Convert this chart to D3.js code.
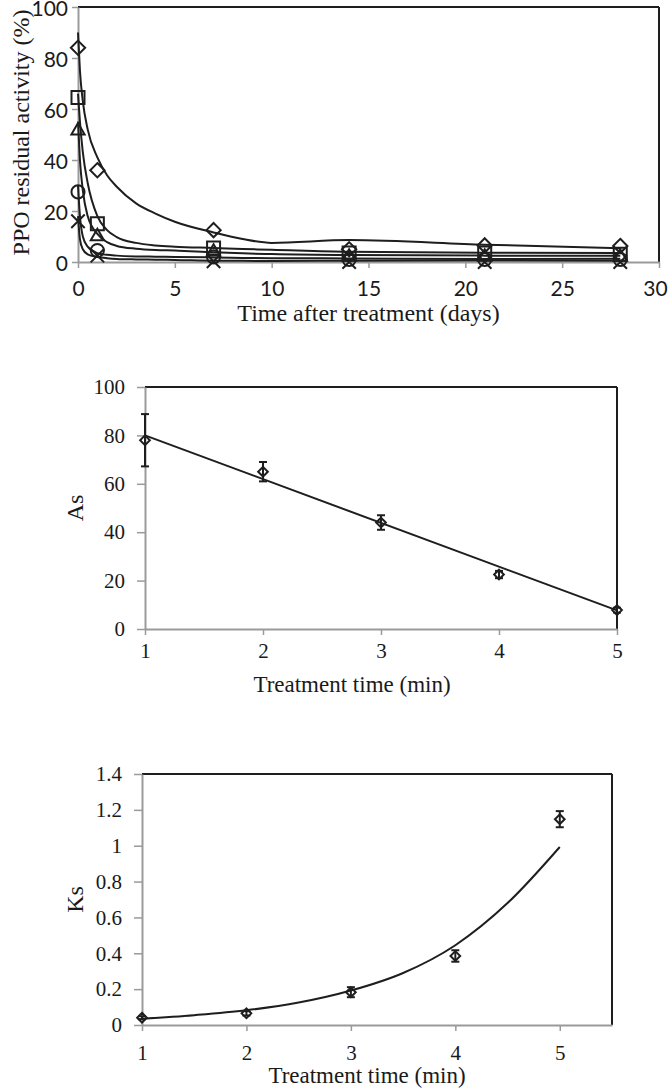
<!DOCTYPE html>
<html><head><meta charset="utf-8">
<script src="https://cdn.jsdelivr.net/npm/d3@7"></script>
<style>body{margin:0;background:#fff}svg{display:block}</style>
</head><body>
<script>
// ---------- Chart A data: PPO residual activity ----------
const daysObs = [0, 1, 7, 14, 21, 28];
const diamondObs = [84, 36, 12.5, 5, 6.5, 6.3];
const squareObs = [64.5, 15, 5.5, 3.5, 3.5, 3];
const triangleObs = [51.5, 10, 4, 2, 2, 2];
const circleObs = [27.5, 4.5, 2, 1, 1, 1];
const crossObs = [16, 2.5, 0.3, 0, 0, 0];

const fitDays = [0, 0.1, 0.25, 0.5, 1, 1.5, 2, 3, 4, 5, 7, 8.5, 10, 14, 21, 28];
const diamondFit = [90, 75, 63, 52, 41, 34, 29.5, 23, 19, 15.8, 11.6, 9, 7.5, 8.6, 6.8, 5.4];
const squareFit = [66, 55, 43, 31, 18, 12.5, 9.8, 7.5, 6.5, 6.0, 5.5, 5.1, 4.8, 4.0, 3.6, 3.5];
const triangleFit = [55, 40, 28, 18, 11, 7.8, 6.3, 5.2, 4.7, 4.5, 3.8, 3.4, 3.1, 2.7, 2.5, 2.5];
const circleFit = [30, 18, 10, 6, 3.5, 2.8, 2.5, 2.2, 2.1, 2.0, 1.8, 1.6, 1.5, 1.4, 1.2, 1.3];
const crossFit = [18, 9, 5, 3, 2, 1.5, 1.2, 1.0, 0.9, 0.8, 0.5, 0.45, 0.4, 0.5, 0.6, 0.5];

const xTicksA = [0, 5, 10, 15, 20, 25, 30];
const yTicksA = [0, 20, 40, 60, 80, 100];

// ---------- Chart B data: As ----------
const timeMin = [1, 2, 3, 4, 5];
const asVals = [78, 65, 44, 22.5, 7.8];
const asErr = [10.8, 4, 3, 1.5, 1];
const asFitX = [1, 5];
const asFitY = [80, 7.7];
const yTicksB = [0, 20, 40, 60, 80, 100];

// ---------- Chart C data: Ks ----------
const ksVals = [0.041, 0.065, 0.183, 0.385, 1.148];
const ksErr = [0.008, 0.012, 0.028, 0.032, 0.045];
const ksFitX = [1, 1.5, 2, 2.5, 3, 3.5, 4, 4.5, 5];
const ksFitY = [0.035, 0.055, 0.082, 0.125, 0.192, 0.29, 0.445, 0.68, 0.993];
const yTicksC = [0, 0.2, 0.4, 0.6, 0.8, 1, 1.2, 1.4];
const yTickLabelsC = ["0", "0.2", "0.4", "0.6", "0.8", "1", "1.2", "1.4"];

const W = 669, H = 1090;
const INK = "#1e1e1e", GRAY = "#9a9a9a";
const SERIF = "'Liberation Serif', 'Times New Roman', serif";
const SANS = "Lato, 'Open Sans', sans-serif";

const svg = d3.select("body").append("svg").attr("width", W).attr("height", H);

function frame(g, x, y, xr, yr) {
  g.append("line").attr("x1", x(xr[0])).attr("x2", x(xr[1])).attr("y1", y(yr[1])).attr("y2", y(yr[1]))
    .attr("stroke", INK).attr("stroke-width", 2);
  g.append("line").attr("x1", x(xr[1])).attr("x2", x(xr[1])).attr("y1", y(yr[0])).attr("y2", y(yr[1]))
    .attr("stroke", INK).attr("stroke-width", 2);
}
function styleAxis(sel, font, size) {
  sel.select(".domain").attr("stroke", GRAY).attr("stroke-width", 2);
  sel.selectAll(".tick line").attr("stroke", GRAY).attr("stroke-width", 1.5);
  sel.selectAll(".tick text").attr("fill", "#1a1a1a").style("font-family", font).style("font-size", size + "px");
}

// ================= Chart A =================
{
  const x = d3.scaleLinear().domain([0, 30]).range([78, 659]);
  const y = d3.scaleLinear().domain([0, 100]).range([262, 7]);
  const g = svg.append("g");
  frame(g, x, y, [0, 30], [0, 100]);
  const ax = g.append("g").attr("transform", `translate(0,${y(0)})`)
    .call(d3.axisBottom(x).tickValues(xTicksA).tickSize(6).tickSizeOuter(0).tickPadding(13).tickFormat(d3.format("d")));
  styleAxis(ax, SANS, 21);
  ax.selectAll(".tick text").filter(d => d === 30).attr("dx", -4);
  const ay = g.append("g").attr("transform", `translate(${x(0)},0)`)
    .call(d3.axisLeft(y).tickValues(yTicksA).tickSize(6).tickSizeOuter(0).tickPadding(4).tickFormat(d3.format("d")));
  styleAxis(ay, SANS, 21);
  ay.selectAll(".tick text").attr("dy", "0.42em");

  const line = d3.line().x((d, i) => x(fitDays[i])).y(d => y(d)).curve(d3.curveMonotoneX);
  [diamondFit, squareFit, triangleFit, circleFit, crossFit].forEach(arr => {
    g.append("path").attr("d", line(arr)).attr("fill", "none").attr("stroke", INK).attr("stroke-width", 2);
  });

  const sym = {
    diamond: d3.symbol().type(d3.symbolDiamond2).size(130)(),
    square: d3.symbol().type(d3.symbolSquare2).size(215)(),
    triangle: d3.symbol().type(d3.symbolTriangle2).size(125)(),
    circle: d3.symbol().type(d3.symbolCircle).size(135)(),
    cross: d3.symbol().type(d3.symbolX).size(120)()
  };
  const series = [["diamond", diamondObs], ["square", squareObs], ["triangle", triangleObs], ["circle", circleObs], ["cross", crossObs]];
  series.forEach(([k, arr]) => {
    g.append("g").selectAll("path").data(arr).join("path")
      .attr("d", sym[k])
      .attr("transform", (d, i) => `translate(${x(daysObs[i])},${y(d)})`)
      .attr("fill", "none").attr("stroke", INK).attr("stroke-width", 2);
  });

  g.append("text").attr("transform", `translate(21,${(y(0) + y(100)) / 2 - 2}) rotate(-90)`)
    .attr("text-anchor", "middle").attr("dominant-baseline", "central")
    .style("font-family", SERIF).style("font-size", "24px").attr("fill", "#1a1a1a")
    .text("PPO residual activity (%)");
  g.append("text").attr("x", (x(0) + x(30)) / 2).attr("y", 321)
    .attr("text-anchor", "middle")
    .style("font-family", SERIF).style("font-size", "24px").attr("fill", "#1a1a1a")
    .text("Time after treatment (days)");
}

function errorPlot(cfg) {
  const { x, y, xr, yr, xs, ys, es, fitX, fitY, curve, yTicks, yLabels, xTicks, ylab, ylabX, xlabX, xlabY, xPad } = cfg;
  const g = svg.append("g");
  frame(g, x, y, xr, yr);
  const ax = g.append("g").attr("transform", `translate(0,${y(yr[0])})`)
    .call(d3.axisBottom(x).tickValues(xTicks).tickSize(6).tickSizeOuter(0).tickPadding(xPad).tickFormat(d3.format("d")));
  styleAxis(ax, SERIF, 21);
  const ay = g.append("g").attr("transform", `translate(${x(xr[0])},0)`)
    .call(d3.axisLeft(y).tickValues(yTicks).tickSize(8).tickSizeOuter(0).tickPadding(12).tickFormat((d, i) => yLabels[i]));
  styleAxis(ay, SERIF, 21);

  const line = d3.line().x((d, i) => x(fitX[i])).y(d => y(d)).curve(curve);
  g.append("path").attr("d", line(fitY)).attr("fill", "none").attr("stroke", INK).attr("stroke-width", 2);

  const eb = g.append("g").attr("stroke", INK).attr("stroke-width", 2).attr("fill", "none");
  ys.forEach((v, i) => {
    const cx = x(xs[i]), t = y(v + es[i]), b = y(v - es[i]);
    eb.append("line").attr("x1", cx).attr("x2", cx).attr("y1", t).attr("y2", b);
    eb.append("line").attr("x1", cx - 4).attr("x2", cx + 4).attr("y1", t).attr("y2", t);
    eb.append("line").attr("x1", cx - 4).attr("x2", cx + 4).attr("y1", b).attr("y2", b);
  });
  const dia = d3.symbol().type(d3.symbolDiamond2).size(60)();
  g.append("g").selectAll("path").data(ys).join("path")
    .attr("d", dia).attr("transform", (d, i) => `translate(${x(xs[i])},${y(d)})`)
    .attr("fill", "none").attr("stroke", INK).attr("stroke-width", 2);

  g.append("text").attr("transform", `translate(${ylabX},${(y(yr[0]) + y(yr[1])) / 2}) rotate(-90)`)
    .attr("text-anchor", "middle").attr("dominant-baseline", "central")
    .style("font-family", SERIF).style("font-size", "24px").attr("fill", "#1a1a1a").text(ylab);
  g.append("text").attr("x", xlabX).attr("y", xlabY).attr("text-anchor", "middle")
    .style("font-family", SERIF).style("font-size", "23px").attr("fill", "#1a1a1a").text("Treatment time (min)");
}

// ================= Chart B =================
errorPlot({
  x: d3.scaleLinear().domain([1, 5]).range([145, 617]),
  y: d3.scaleLinear().domain([0, 100]).range([629, 387]),
  xr: [1, 5], yr: [0, 100],
  xs: timeMin, ys: asVals, es: asErr,
  fitX: asFitX, fitY: asFitY, curve: d3.curveLinear,
  yTicks: yTicksB, yLabels: yTicksB.map(String), xTicks: timeMin,
  ylab: "As", ylabX: 75, xlabX: 352, xlabY: 692, xPad: 8
});

// ================= Chart C =================
errorPlot({
  x: d3.scaleLinear().domain([1, 5.5]).range([142, 612]),
  y: d3.scaleLinear().domain([0, 1.4]).range([1025, 774]),
  xr: [1, 5.5], yr: [0, 1.4],
  xs: timeMin, ys: ksVals, es: ksErr,
  fitX: ksFitX, fitY: ksFitY, curve: d3.curveMonotoneX,
  yTicks: yTicksC, yLabels: yTickLabelsC, xTicks: timeMin,
  ylab: "Ks", ylabX: 75, xlabX: 367, xlabY: 1083, xPad: 14
});
</script>
</body></html>
